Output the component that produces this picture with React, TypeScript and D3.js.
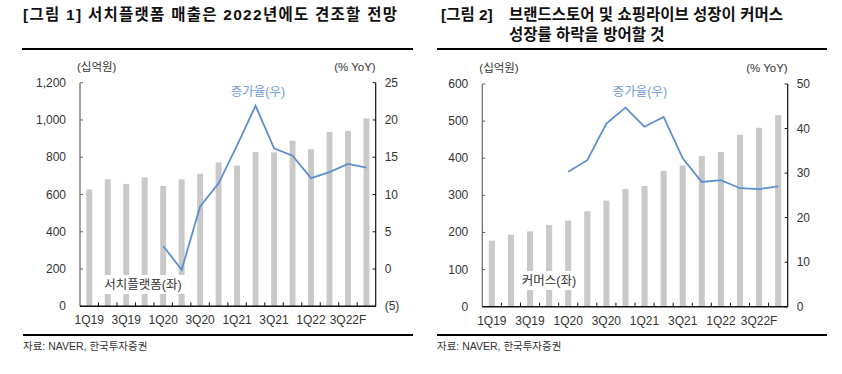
import React from "react";
import * as d3 from "d3";

// categories
const quarters = ["1Q19", "2Q19", "3Q19", "4Q19", "1Q20", "2Q20", "3Q20", "4Q20",
    "1Q21", "2Q21", "3Q21", "4Q21", "1Q22", "2Q22", "3Q22F", "4Q22F"];
const shownLabels = ["1Q19", "3Q19", "1Q20", "3Q20", "1Q21", "3Q21", "1Q22", "3Q22F"];

// chart 1: search platform revenue (bn KRW) and YoY growth (%)
const searchRevenue = [627, 682, 657, 692, 646, 681, 711, 772, 755, 828, 826, 889, 843, 936, 941, 1008];
const searchGrowth = [null, null, null, null, 3.1, -0.1, 8.4, 11.5, 16.6, 21.9, 16.2, 15.2, 12.2, 13.0, 14.1, 13.6];
const searchLeftTicks = [0, 200, 400, 600, 800, 1000, 1200];
const searchRightTicks = [-5, 0, 5, 10, 15, 20, 25];

// chart 2: commerce revenue (bn KRW) and YoY growth (%)
const commerceRevenue = [178, 194, 203, 220, 232, 257, 286, 317, 325, 366, 381, 406, 417, 463, 482, 516];
const commerceGrowth = [null, null, null, null, 30.3, 32.9, 41.1, 44.7, 40.4, 42.6, 33.3, 28.0, 28.4, 26.6, 26.4, 27.0];
const commerceLeftTicks = [0, 100, 200, 300, 400, 500, 600];
const commerceRightTicks = [0, 10, 20, 30, 40, 50];

const FONT = "'Liberation Sans', 'Noto Sans CJK KR', Arial, sans-serif";
const BAR = "#c9c9c9";
const LINE = "#5b8fd0";
const LABEL_BLUE = "#6f9bd6";
const TEXT = "#333";

interface PanelProps {
    left: number;
    right: number;
    top: number;
    bottom: number;
    bars: number[];
    growth: (number | null)[];
    leftTicks: number[];
    rightTicks: number[];
    barLabel: string;
    barLabelX: number;
    barLabelY: number;
    growthLabelX: number;
    growthLabelY: number;
}

function fmtLeft(v: number) {
    return d3.format(",")(v);
}
function fmtRight(v: number) {
    return v < 0 ? `(${Math.abs(v)})` : `${v}`;
}

function Panel(p: PanelProps) {
    const x = d3.scaleBand<string>().domain(quarters).range([p.left, p.right]).paddingInner(0.68).paddingOuter(0.34);
    const yL = d3.scaleLinear().domain(d3.extent(p.leftTicks) as [number, number]).range([p.bottom, p.top]);
    const yR = d3.scaleLinear().domain(d3.extent(p.rightTicks) as [number, number]).range([p.bottom, p.top]);
    const step = x.step();
    const cx = (q: string) => (x(q) as number) + x.bandwidth() / 2;

    const linePts = quarters.map((q, i) => ({ q, v: p.growth[i] })).filter(d => d.v !== null);
    const line = d3.line<{ q: string, v: number | null }>()
        .x(d => cx(d.q))
        .y(d => yR(d.v as number));

    const labelW = p.barLabel.length * 11 + 4;

    return (
        <g fontFamily={FONT}>
            {/* bars */}
            {quarters.map((q, i) => (
                <rect key={q} x={x(q)} y={yL(p.bars[i])} width={x.bandwidth()}
                    height={yL(0) - yL(p.bars[i])} fill={BAR} />
            ))}
            {/* bar series label on a white box */}
            <rect x={p.barLabelX - labelW / 2} y={p.barLabelY - 10} width={labelW} height={19} fill="#fff" />
            <text x={p.barLabelX} y={p.barLabelY + 4} textAnchor="middle" fontSize={12.5} fill={TEXT}>{p.barLabel}</text>

            {/* growth line */}
            <path d={line(linePts) || ""} fill="none" stroke={LINE} strokeWidth={1.8} />
            <text x={p.growthLabelX} y={p.growthLabelY + 4} textAnchor="middle" fontSize={12.5} fill={LABEL_BLUE}>증가율(우)</text>

            {/* left axis */}
            <line x1={p.left} x2={p.left} y1={p.top} y2={p.bottom} stroke="#666" strokeWidth={1.2} />
            {p.leftTicks.map(t => (
                <g key={"l" + t}>
                    <line x1={p.left} x2={p.left + 3} y1={yL(t)} y2={yL(t)} stroke="#666" />
                    <text x={p.left - 14} y={yL(t) + 4} textAnchor="end" fontSize={12} fill={TEXT}>{fmtLeft(t)}</text>
                </g>
            ))}
            {/* right axis */}
            <line x1={p.right} x2={p.right} y1={p.top} y2={p.bottom} stroke="#111" strokeWidth={1.2} />
            {p.rightTicks.map(t => (
                <g key={"r" + t}>
                    <line x1={p.right - 3} x2={p.right} y1={yR(t)} y2={yR(t)} stroke="#111" />
                    <text x={p.right + 9} y={yR(t) + 4} textAnchor="start" fontSize={12} fill={TEXT}>{fmtRight(t)}</text>
                </g>
            ))}
            {/* x axis */}
            <line x1={p.left} x2={p.right} y1={p.bottom} y2={p.bottom} stroke="#111" strokeWidth={1.5} />
            {quarters.slice(1).map(q => (
                <line key={"t" + q} x1={(x(q) as number) - (step - x.bandwidth()) / 2} x2={(x(q) as number) - (step - x.bandwidth()) / 2}
                    y1={p.bottom} y2={p.bottom - 4} stroke="#111" />
            ))}
            {shownLabels.map(q => (
                <text key={"x" + q} x={cx(q)} y={p.bottom + 18} textAnchor="middle" fontSize={12} fill={TEXT}>{q}</text>
            ))}
            {/* units */}
            <text x={p.left - 3} y={p.top - 12} fontSize={11.5} fill={TEXT}>(십억원)</text>
            <text x={p.right} y={p.top - 12} textAnchor="end" fontSize={11.5} fill={TEXT}>(% YoY)</text>
        </g>
    );
}

export default function App() {
    return (
        <div style={{ position: "absolute", left: 0, top: 0 }}>
            <svg width={842} height={374} style={{ display: "block", background: "#fff" }}>
                {/* titles */}
                <g fontFamily={FONT} fontWeight="bold" fontSize={15.5} fill="#111">
                    <text x={23} y={20} textLength={374} lengthAdjust="spacing">[그림 1] 서치플랫폼 매출은 2022년에도 견조할 전망</text>
                    <text x={441} y={20}>[그림 2]</text>
                    <text x={509} y={20}>브랜드스토어 및 쇼핑라이브 성장이 커머스</text>
                    <text x={509} y={40}>성장률 하락을 방어할 것</text>
                </g>
                <line x1={22} x2={413} y1={49} y2={49} stroke="#000" strokeWidth={2.2} />
                <line x1={437} x2={827} y1={49} y2={49} stroke="#000" strokeWidth={2.2} />

                <Panel left={80} right={375.7} top={82.7} bottom={306.3}
                    bars={searchRevenue} growth={searchGrowth}
                    leftTicks={searchLeftTicks} rightTicks={searchRightTicks}
                    barLabel="서치플랫폼(좌)" barLabelX={143} barLabelY={285}
                    growthLabelX={258} growthLabelY={92} />
                <Panel left={482.3} right={787.7} top={84} bottom={306.7}
                    bars={commerceRevenue} growth={commerceGrowth}
                    leftTicks={commerceLeftTicks} rightTicks={commerceRightTicks}
                    barLabel="커머스(좌)" barLabelX={549} barLabelY={281}
                    growthLabelX={640} growthLabelY={92} />

                <line x1={23} x2={413} y1={335} y2={335} stroke="#000" strokeWidth={2.2} />
                <line x1={437} x2={827} y1={335} y2={335} stroke="#000" strokeWidth={2.2} />
                <g fontFamily={FONT} fontSize={10.5} fill={TEXT}>
                    <text x={23} y={350}>자료: NAVER, 한국투자증권</text>
                    <text x={437} y={350}>자료: NAVER, 한국투자증권</text>
                </g>
            </svg>
        </div>
    );
}
